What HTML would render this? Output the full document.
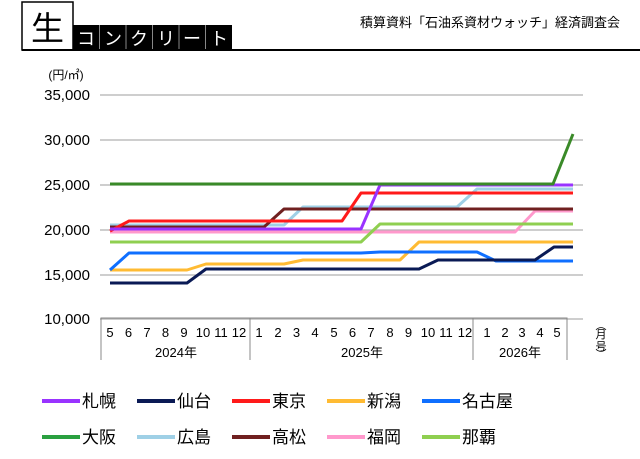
<!DOCTYPE html>
<html><head><meta charset="utf-8"><style>
body{margin:0;width:640px;height:454px;background:#fff;overflow:hidden;font-family:"Liberation Sans","Noto Sans CJK JP",sans-serif;}
</style></head><body>
<svg width="640" height="454" viewBox="0 0 640 454" xmlns="http://www.w3.org/2000/svg" font-family="Liberation Sans, Noto Sans CJK JP, sans-serif">
<rect x="22" y="2" width="51" height="48" fill="#fff" stroke="#000" stroke-width="1.5"/>
<text x="47.5" y="40" font-size="33" text-anchor="middle" fill="#000">生</text>
<rect x="73" y="25" width="159" height="25" fill="#000"/>
<g stroke="#888" stroke-width="1"><line x1="99.5" y1="25" x2="99.5" y2="50"/><line x1="126" y1="25" x2="126" y2="50"/><line x1="152.5" y1="25" x2="152.5" y2="50"/><line x1="179" y1="25" x2="179" y2="50"/><line x1="205.5" y1="25" x2="205.5" y2="50"/></g>
<g fill="#fff" font-size="18" text-anchor="middle"><text x="86" y="45">コ</text><text x="113" y="45">ン</text><text x="139" y="45">ク</text><text x="166" y="45">リ</text><text x="192" y="45">ー</text><text x="219" y="45">ト</text></g>
<line x1="22" y1="50" x2="640" y2="50" stroke="#000" stroke-width="2"/>
<text x="620" y="27" font-size="13" text-anchor="end" fill="#000">積算資料「石油系資材ウォッチ」経済調査会</text>
<text x="66" y="79" font-size="12" text-anchor="middle" fill="#000">(円/㎡)</text>
<g stroke="#b0b0b0" stroke-width="1.3">
<line x1="100" y1="95" x2="583" y2="95"/><line x1="100" y1="140" x2="583" y2="140"/><line x1="100" y1="185" x2="583" y2="185"/><line x1="100" y1="230" x2="583" y2="230"/><line x1="100" y1="275" x2="583" y2="275"/><line x1="100" y1="319" x2="583" y2="319"/>
</g>
<g font-size="15" text-anchor="end" fill="#000">
<text x="90" y="100">35,000</text><text x="90" y="145">30,000</text><text x="90" y="190">25,000</text><text x="90" y="235">20,000</text><text x="90" y="280">15,000</text><text x="90" y="324">10,000</text>
</g>
<g fill="none" stroke-width="3" stroke-linejoin="round">
<polyline stroke="#ff99cc" points="110,232 515,232 535,211 573,211"/>
<polyline stroke="#8fcf50" points="110,242 361,242 380,224 573,224"/>
<polyline stroke="#9fd0e6" points="110,225 284,225 303,207 457,207 477,189 573,189"/>
<polyline stroke="#702020" points="110,227 264,227 284,209 573,209"/>
<polyline stroke="#ff1a1a" points="110,231 129,221 342,221 361,193 573,193"/>
<polyline stroke="#9933ff" points="110,229 361,229 380,185 573,185"/>
<polyline stroke="#3a8a28" points="110,184 553,184 573,134"/>
<polyline stroke="#ffbb33" points="110,270 187,270 206,264 284,264 303,260 400,260 419,242 573,242"/>
<polyline stroke="#0f6fff" points="110,270 129,253 361,253 380,252 477,252 496,261 573,261"/>
<polyline stroke="#0a1a55" points="110,283 187,283 206,269 419,269 438,260 535,260 554,247 573,247"/>
</g>
<g stroke="#888" stroke-width="1" fill="none">
<polyline points="101,360 101,318 567,318 567,360"/>
<line x1="250" y1="318" x2="250" y2="360"/><line x1="473" y1="318" x2="473" y2="360"/>
</g>
<g font-size="13" text-anchor="middle" fill="#000">
<text x="110" y="337">5</text><text x="128.5" y="337">6</text><text x="147" y="337">7</text><text x="165.5" y="337">8</text><text x="184" y="337">9</text><text x="203" y="337">10</text><text x="221" y="337">11</text><text x="239" y="337">12</text>
<text x="259" y="337">1</text><text x="278" y="337">2</text><text x="296.5" y="337">3</text><text x="315" y="337">4</text><text x="334" y="337">5</text><text x="352.5" y="337">6</text><text x="371" y="337">7</text><text x="390" y="337">8</text><text x="408.5" y="337">9</text><text x="428" y="337">10</text><text x="446" y="337">11</text><text x="465" y="337">12</text>
<text x="487" y="337">1</text><text x="505" y="337">2</text><text x="522" y="337">3</text><text x="540" y="337">4</text><text x="557" y="337">5</text>
<text x="176" y="357">2024年</text><text x="362" y="357">2025年</text><text x="520" y="357">2026年</text>
</g>
<g font-size="11" text-anchor="middle" fill="#000">
<text x="601" y="329">︵</text><text x="601" y="338">月</text><text x="601" y="350">号</text><text x="601" y="358">︶</text>
</g>
<g stroke-width="4">
<line x1="42" y1="401" x2="80" y2="401" stroke="#9933ff"/><line x1="137" y1="401" x2="175" y2="401" stroke="#0a1a55"/><line x1="232" y1="401" x2="270" y2="401" stroke="#ff1a1a"/><line x1="327" y1="401" x2="365" y2="401" stroke="#ffbb33"/><line x1="422" y1="401" x2="460" y2="401" stroke="#0f6fff"/>
<line x1="42" y1="437" x2="80" y2="437" stroke="#2aa040"/><line x1="137" y1="437" x2="175" y2="437" stroke="#9fd0e6"/><line x1="232" y1="437" x2="270" y2="437" stroke="#702020"/><line x1="327" y1="437" x2="365" y2="437" stroke="#ff99cc"/><line x1="422" y1="437" x2="460" y2="437" stroke="#8fcf50"/>
</g>
<g font-size="17" fill="#000">
<text x="82" y="407">札幌</text><text x="177" y="407">仙台</text><text x="272" y="407">東京</text><text x="367" y="407">新潟</text><text x="462" y="407">名古屋</text>
<text x="82" y="443">大阪</text><text x="177" y="443">広島</text><text x="272" y="443">高松</text><text x="367" y="443">福岡</text><text x="462" y="443">那覇</text>
</g>
</svg>
</body></html>
